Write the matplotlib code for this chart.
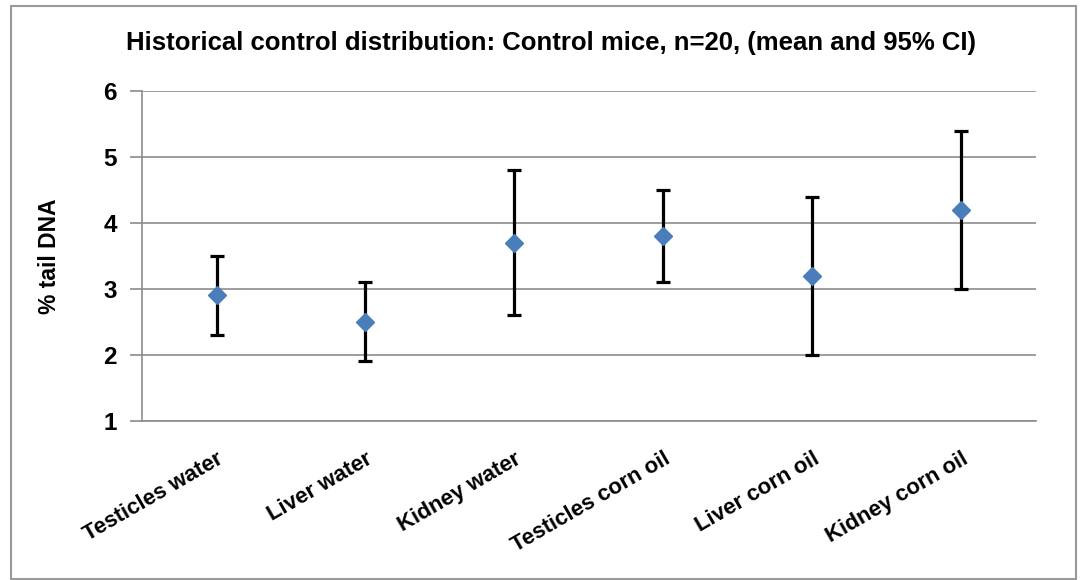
import matplotlib
matplotlib.use("Agg")
import matplotlib.pyplot as plt
from matplotlib.patches import Rectangle

# data
groups = ["Testicles water", "Liver water", "Kidney water",
          "Testicles corn oil", "Liver corn oil", "Kidney corn oil"]
means = [2.9, 2.5, 3.7, 3.8, 3.2, 4.2]
ci_low = [2.3, 1.9, 2.6, 3.1, 2.0, 3.0]
ci_high = [3.5, 3.1, 4.8, 4.5, 4.4, 5.4]

plt.rcParams['font.family'] = ['Liberation Sans', 'DejaVu Sans']

fig = plt.figure(figsize=(10.81, 5.8), dpi=100)
ax = fig.add_axes([0.1314, 0.2747, 0.8266, 0.5683])

# outer chart border
fig.patches.append(Rectangle((11 / 1081, 1 / 580), 1065 / 1081, 573 / 580,
                             transform=fig.transFigure, fill=False,
                             edgecolor="#9a9a9a", linewidth=1.5))

x = list(range(len(groups)))
err = [[m - lo for m, lo in zip(means, ci_low)],
       [hi - m for m, hi in zip(means, ci_high)]]

ax.errorbar(x, means, yerr=err, fmt="none", ecolor="black",
            elinewidth=2.3, capsize=5, capthick=2.3, zorder=3)
ax.plot(x, means, linestyle="none", marker="D", markersize=9.5,
        color="#4A7EBB", zorder=4)

ax.set_xlim(-0.5, len(groups) - 0.5)
ax.set_ylim(1, 6)
ax.set_yticks([1, 2, 3, 4, 5, 6])
ax.yaxis.grid(True, color="#8c8c8c", linewidth=1.2)
ax.set_axisbelow(True)

for s in ["top", "right"]:
    ax.spines[s].set_visible(False)
for s in ["left", "bottom"]:
    ax.spines[s].set_color("#8c8c8c")
    ax.spines[s].set_linewidth(1.2)

ax.tick_params(axis="y", length=9, width=1.2, color="#8c8c8c",
               labelsize=17.5, pad=9)
ax.tick_params(axis="x", length=0, pad=20)
for lab in ax.get_yticklabels():
    lab.set_fontweight("bold")

ax.set_xticks(x)
ax.set_xticklabels(groups, rotation=30, ha="right", rotation_mode="anchor",
                   fontsize=16, fontweight="bold")

ax.set_ylabel("% tail DNA", fontsize=16.5, fontweight="bold")
ax.yaxis.set_label_coords(-0.091, 0.5)

fig.text(0.51, 1 - 50 / 580, "Historical control distribution: Control mice, n=20, (mean and 95% CI)",
         ha="center", va="baseline", fontsize=18.5, fontweight="bold")

fig.savefig("out.png", dpi=100)
